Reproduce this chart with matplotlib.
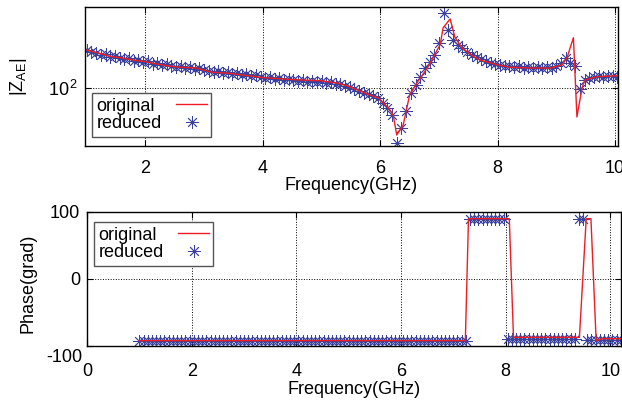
import numpy as np
import matplotlib
matplotlib.use("Agg")
import matplotlib.pyplot as plt
from matplotlib.ticker import NullLocator

plt.rcParams['font.family'] = ['Liberation Sans', 'DejaVu Sans']
plt.rcParams['mathtext.fontset'] = 'custom'
plt.rcParams['mathtext.rm'] = 'Liberation Sans'
plt.rcParams['mathtext.it'] = 'Liberation Sans:italic'
plt.rcParams['axes.unicode_minus'] = False

# original model: polyline vertices (GHz, Ohm / degrees)
orig_freq = [1.0, 1.2, 1.4, 1.6, 1.8, 2.0, 2.2, 2.4, 2.6, 2.87, 3.0, 3.14, 3.4,
             3.77, 4.0, 4.34, 4.6, 5.0, 5.27, 5.45, 5.66, 5.82, 5.97, 6.04,
             6.14, 6.22, 6.28, 6.39, 6.5, 6.62, 6.81, 7.02, 7.07, 7.19, 7.27,
             7.39, 7.55, 7.7, 8.0, 8.21, 8.6, 8.9, 9.1, 9.18, 9.29, 9.35, 9.44,
             9.49, 9.7, 10.04, 10.2]
orig_mag = [146, 141.5, 137, 135, 132, 130, 127, 124.5, 123, 122, 119.5, 117,
            116, 113, 111, 109.5, 108.5, 107.5, 105, 102, 97, 93.4, 90.6, 87,
            82, 76.5, 62.7, 69.3, 93.4, 105, 123, 154, 182, 199, 166, 149, 139,
            132, 126, 123, 122, 122, 126, 135, 165, 75, 101, 108.5, 112, 113, 113]

orig_phase_freq = [1.0, 7.23, 7.29, 8.07, 8.15, 9.41, 9.54, 9.63, 9.73, 9.85, 10.2]
orig_phase = [-92, -92, 90, 90, -87, -87, 90, 90, -92, -89, -89]

# reduced model: samples every 0.08 GHz from 1.0 to 10.2
red_freq = np.round(np.arange(116) * 0.08 + 1.0, 2)
red_mag = [146, 143, 141.5, 139, 140, 136, 137, 135, 134, 135,
           131, 132, 130, 131, 127, 128, 126, 127, 124.5, 123,
           124.5, 122, 123, 121, 122, 119.5, 118.5, 117, 118.5, 116,
           117, 115, 116, 114, 115, 113, 114, 112, 111, 112,
           109.5, 111, 108.5, 109.5, 108.5, 107.5, 108.5, 106.5, 107.5, 106.5,
           107.5, 105, 106.5, 104, 104, 102, 101, 99, 97, 95,
           94.2, 92.5, 90.6, 86, 82, 76.5, 58, 67, 80, 95,
           103, 112, 122, 130, 139, 157, 211, 178, 161, 154,
           149, 143, 139, 136, 134, 131, 128, 127, 126, 124.5,
           124.5, 123, 124.5, 122, 123, 122, 123, 122, 123, 122,
           124.5, 128, 135, 128, 124.5, 99, 108.5, 111, 112, 113,
           112, 113, 113, 112, 113, 113]
red_phase = [-92, -92, -92, -92, -92, -92, -92, -92, -92, -92,
             -92, -92, -92, -92, -92, -92, -92, -92, -92, -92,
             -92, -92, -92, -92, -92, -92, -92, -92, -92, -92,
             -92, -92, -92, -92, -92, -92, -92, -92, -92, -92,
             -92, -92, -92, -92, -92, -92, -92, -92, -92, -92,
             -92, -92, -92, -92, -92, -92, -92, -92, -92, -92,
             -92, -92, -92, -92, -92, -92, -92, -92, -92, -92,
             -92, -92, -92, -92, -92, -92, -92, -92, -92, 90,
             90, 90, 90, 90, 90, 90, 90, 90, -89, -89,
             -89, -89, -89, -89, -89, -89, -89, -89, -89, -89,
             -89, -89, -89, -89, -89, 90, 90, -91, -91, -91,
             -91, -91, -91, -91, -91, -91]

line_col = '#ee1c25'
star_col = '#3a429c'
star = (8, 2, 0)
fs = 13

fig = plt.figure(figsize=(6.22, 4.03), dpi=100)
ax1 = fig.add_axes([0.1367, 0.6377, 0.8569, 0.3449])
ax2 = fig.add_axes([0.1399, 0.1414, 0.8581, 0.3326])

# --- magnitude ---
ax1.plot(red_freq, red_mag, linestyle='none', marker=star, markersize=9,
         markeredgewidth=0.6, color=star_col, label='reduced', zorder=2)
ax1.plot(orig_freq, orig_mag, color=line_col, lw=1, label='original', zorder=3)
ax1.set_yscale('log')
ax1.set_xlim(0.97, 10.05)
ax1.set_ylim(56.2, 223.9)
ax1.set_xticks([2, 4, 6, 8, 10])
ax1.set_yticks([100])
ax1.set_yticklabels([r'10$^{\,2}$'])
ax1.yaxis.set_minor_locator(NullLocator())
ax1.set_xlabel('Frequency(GHz)', fontsize=fs)
ax1.xaxis.set_label_coords(0.5, -0.22)
ax1.set_ylabel(r'|Z$_{\rm AE}$|', fontsize=fs)
ax1.yaxis.set_label_coords(-0.105, 0.5)
ax1.tick_params(axis='x', pad=10)

# --- phase ---
ax2.plot(red_freq, red_phase, linestyle='none', marker=star, markersize=9,
         markeredgewidth=0.6, color=star_col, label='reduced', zorder=2)
ax2.plot(orig_phase_freq, orig_phase, color=line_col, lw=1, label='original', zorder=3)
ax2.set_xlim(0, 10.2)
ax2.set_ylim(-100, 100)
ax2.set_xticks([0, 2, 4, 6, 8, 10])
ax2.set_yticks([-100, 0, 100])
# the -100 label sits below the axis corner in the reference, drawn separately
ax2.set_yticklabels(['', '0', '100'])
ax2.text(-0.009, -0.085, '-100', transform=ax2.transAxes, ha='right',
         va='center', fontsize=fs)
ax2.set_xlabel('Frequency(GHz)', fontsize=fs)
ax2.xaxis.set_label_coords(0.5, -0.26)
ax2.set_ylabel('Phase(grad)', fontsize=fs)
ax2.yaxis.set_label_coords(-0.095, 0.47)
ax2.tick_params(axis='x', pad=12)

legs = []
for ax in (ax1, ax2):
    ax.grid(True, linestyle=':', color='k', linewidth=0.7)
    ax.tick_params(direction='in', top=True, right=True, labelsize=fs,
                   length=4, width=0.8)
    ax.tick_params(axis='y', pad=5)
    for s in ax.spines.values():
        s.set_linewidth(1.0)
    h, l = ax.get_legend_handles_labels()
    h, l = h[::-1], l[::-1]
    if ax is ax1:
        leg = ax.legend(h, l, loc='lower left', bbox_to_anchor=(0.013, 0.065),
                        borderaxespad=0, markerfirst=False, fontsize=fs,
                        fancybox=False, framealpha=1, labelspacing=0.05,
                        borderpad=0.25, handletextpad=0.8, handlelength=1.7)
    else:
        leg = ax.legend(h, l, loc='upper left', bbox_to_anchor=(0.013, 0.925),
                        borderaxespad=0, markerfirst=False, fontsize=fs,
                        fancybox=False, framealpha=1, labelspacing=0.05,
                        borderpad=0.25, handletextpad=0.8, handlelength=1.7)
    leg.get_frame().set_edgecolor('#555555')
    leg.get_frame().set_linewidth(1.0)
    leg.set_zorder(5)
    legs.append(leg)

# left-align legend text while keeping the handles in one column on the right
fig.canvas.draw()
r = fig.canvas.get_renderer()
for leg in legs:
    rows = [row for col in leg._legend_handle_box.get_children()
            for row in col.get_children()]
    widths = [t.get_window_extent(r).width for t in leg.get_texts()]
    maxw = max(widths)
    for row, w in zip(rows, widths):
        row.sep = row.sep + (maxw - w) * 72 / fig.dpi

fig.savefig('out.png', dpi=100)
